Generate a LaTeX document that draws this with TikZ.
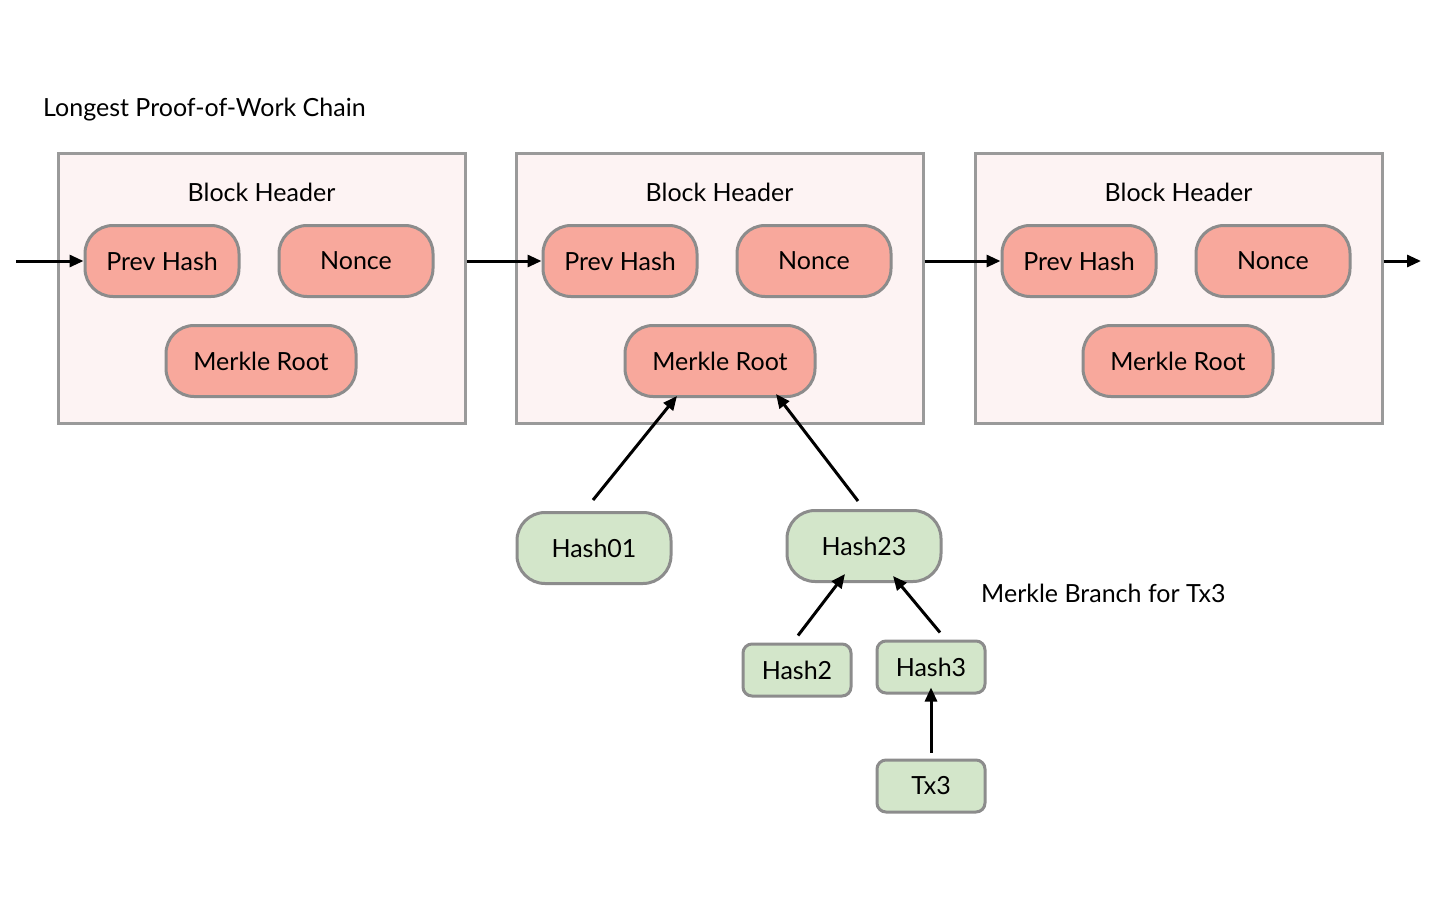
\documentclass[tikz,border=0pt]{standalone}
\usepackage{fontspec}
\setmainfont{Lato}
\usetikzlibrary{arrows.meta,calc}
\definecolor{boxfill}{HTML}{FDF3F3}
\definecolor{boxline}{HTML}{9A9A9A}
\definecolor{pinkfill}{HTML}{F8A89C}
\definecolor{greenfill}{HTML}{D3E6CA}
\definecolor{nodeline}{HTML}{8C8C8C}
\tikzset{
  every node/.style={font=\fontsize{25}{30}\selectfont, text=black},
  blockbox/.style={draw=boxline, fill=boxfill, line width=3pt, minimum width=407pt, minimum height=270pt, inner sep=0pt},
  field/.style={draw=nodeline, fill=pinkfill, line width=3pt, rounded corners=28pt, minimum width=154pt, minimum height=71pt, inner sep=0pt},
  wide/.style={field, minimum width=190pt},
  hashbig/.style={draw=nodeline, fill=greenfill, line width=3pt, rounded corners=28pt, minimum width=154pt, minimum height=71pt, inner sep=0pt},
  hashsmall/.style={draw=nodeline, fill=greenfill, line width=3pt, rounded corners=9pt, minimum width=108pt, minimum height=52pt, inner sep=0pt},
  arr/.style={-{Triangle[length=14pt,width=12pt]}, line width=3pt, black},
  plain/.style={inner sep=0pt, anchor=west}
}
\begin{document}
\begin{tikzpicture}[x=1pt,y=-1pt]
\useasboundingbox (0,0) rectangle (1440,900);
\fill[white] (0,0) rectangle (1440,900);

\node[plain] (title) at (43,110) {Longest Proof-of-Work Chain};

% block boxes
\node[blockbox] (b1) at (261.5,288) {};
\node[blockbox] (b2) at (719.5,288) {};
\node[blockbox] (b3) at (1178.5,288) {};

\node (h1) at (261.5,192) {Block Header};
\node (h2) at (719.5,192) {Block Header};
\node (h3) at (1178.5,192) {Block Header};

\node[field] (p1) at (162,261) {Prev Hash};
\node[field] (n1) at (356,261) {Nonce};
\node[wide] (m1) at (261,361) {Merkle Root};

\node[field] (p2) at (620,261) {Prev Hash};
\node[field] (n2) at (814,261) {Nonce};
\node[wide] (m2) at (720,361) {Merkle Root};

\node[field] (p3) at (1079,261) {Prev Hash};
\node[field] (n3) at (1273,261) {Nonce};
\node[wide] (m3) at (1178,361) {Merkle Root};

% chain arrows
\coordinate (start) at (16,261);
\coordinate (end) at (1421,261);
\draw[arr] (start) -- (p1.west);
\draw[arr] (b1.east |- p1.west) -- (p2.west);
\draw[arr] (b2.east |- p2.west) -- (p3.west);
\draw[arr] (b3.east |- p3.west) -- (end);

% merkle branch
\node[hashbig] (h01) at (594,548) {Hash01};
\node[hashbig] (h23) at (864,546) {Hash23};
\node[hashsmall] (hs2) at (797,670) {Hash2};
\node[hashsmall] (hs3) at (931,667) {Hash3};
\node[hashsmall] (tx3) at (931,786) {Tx3};

\node[plain] (branch) at (981,593) {Merkle Branch for Tx3};

\draw[arr] ($(h01.north)+(-1,-11)$) -- ($(m2.south)+(-43,-2)$);
\draw[arr] ($(h23.north)+(-6,-8)$) -- ($(m2.south)+(56,-4)$);
\draw[arr] ($(hs2.north)+(1,-7)$) -- ($(h23.south)+(-19,-9)$);
\draw[arr] ($(hs3.north)+(9,-7)$) -- ($(h23.south)+(29,-7)$);
\draw[arr] ($(tx3.north)+(0,-6)$) -- ($(hs3.south)+(0,-7)$);
\end{tikzpicture}
\end{document}
